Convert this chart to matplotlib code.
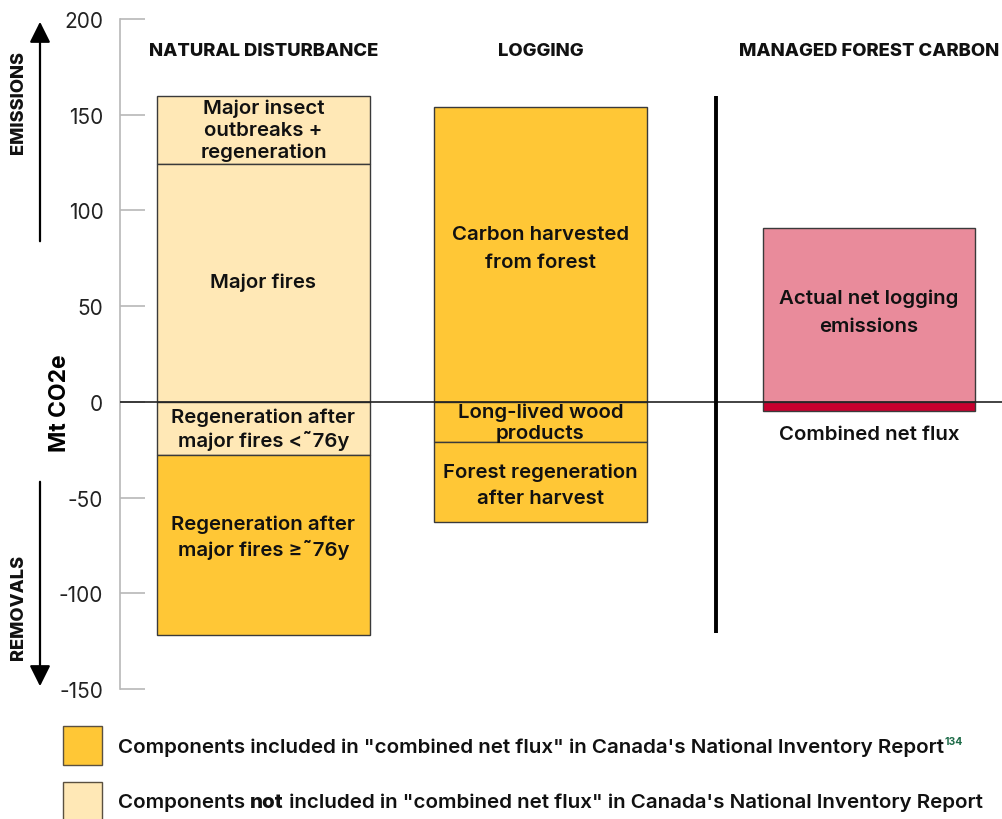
import matplotlib
matplotlib.use("Agg")
import matplotlib.pyplot as plt

# ---- data ----
groups = ["NATURAL DISTURBANCE", "LOGGING", "MANAGED FOREST CARBON"]
# natural disturbance segments (bottom, top)
nd_labels = ["Major insect\noutbreaks +\nregeneration", "Major fires",
             "Regeneration after\nmajor fires <\u02dc76y", "Regeneration after\nmajor fires \u2265\u02dc76y"]
nd_bottoms = [124, 0, -28, -122]
nd_tops = [160, 124, 0, -28]
nd_included = [False, False, False, True]

lg_labels = ["Carbon harvested\nfrom forest", "Long-lived wood\nproducts", "Forest regeneration\nafter harvest"]
lg_bottoms = [0, -21, -63]
lg_tops = [154, 0, -21]
lg_included = [True, True, True]

mfc_net_logging = 91
mfc_combined = -5
mfc_labels = ["Actual net logging\nemissions", "Combined net flux"]

yticks = [-150, -100, -50, 0, 50, 100, 150, 200]
legend_labels = ['Components included in "combined net flux" in Canada\'s National Inventory Report',
                 'Components not included in "combined net flux" in Canada\'s National Inventory Report']
footnote = "134"

# ---- style / layout ----
DARK = "#FFC736"
LIGHT = "#FFE8B6"
PINK = "#E98B9B"
RED = "#C8002E"
EDGE = "#3a3a3a"
FONT = "Inter"
LBL_FS = 14.7
LBL_W = 600

plt.rcParams['font.family'] = [FONT, 'DejaVu Sans']

W, H = 1003, 820
fig = plt.figure(figsize=(W / 100, H / 100), dpi=100)
ax = fig.add_axes([120 / W, (H - 690) / H, 883 / W, 670 / H])
ax.set_xlim(0, 883)
ax.set_ylim(-150, 200)

nd_left, lg_left, mfc_left = 37, 314, 643
bw = 213
sep_x = 596
nd_dy = [0, 1, 0, 4.5]
nd_ls = [1.26, 1.2, 1.22, 1.42]
lg_dy = [3.5, 0, -1.5]
lg_ls = [1.68, 1.24, 1.57]

def draw_stack(left, bottoms, tops, included, labels, dys, lss):
    for b, t, inc, lab, dy, ls in zip(bottoms, tops, included, labels, dys, lss):
        ax.bar(left, t - b, bottom=b, width=bw, align='edge',
               color=DARK if inc else LIGHT, edgecolor=EDGE, linewidth=1.0, zorder=2)
        ax.text(left + bw / 2, (b + t) / 2 + dy, lab, ha='center', va='center',
                fontsize=LBL_FS, fontweight=LBL_W, color='#111111',
                linespacing=ls, zorder=4)

draw_stack(nd_left, nd_bottoms, nd_tops, nd_included, nd_labels, nd_dy, nd_ls)
draw_stack(lg_left, lg_bottoms, lg_tops, lg_included, lg_labels, lg_dy, lg_ls)

ax.bar(mfc_left, mfc_net_logging, width=212, align='edge', color=PINK, edgecolor=EDGE,
       linewidth=1.0, zorder=2)
ax.bar(mfc_left, mfc_combined, width=212, align='edge', color=RED, edgecolor=EDGE,
       linewidth=1.0, zorder=2)
ax.text(mfc_left + 106, mfc_net_logging / 2 + 1.5, mfc_labels[0], ha='center', va='center',
        fontsize=LBL_FS, fontweight=LBL_W, color='#111111', linespacing=1.73, zorder=4)
ax.text(mfc_left + 106, -17, mfc_labels[1], ha='center', va='center',
        fontsize=LBL_FS, fontweight=LBL_W, color='#111111', zorder=4)

ax.axhline(0, color='#222222', lw=1.2, zorder=3)
ax.plot([sep_x, sep_x], [160, -121], color='black', lw=2.8, zorder=3, solid_capstyle='butt')

# group headers
for cx, g in zip([144, 420.5, 749], groups):
    ax.text(cx, 183.5, g, ha='center', va='center', fontsize=13.3, fontweight=800,
            color='#111111', clip_on=False)

# axes styling
for s in ['top', 'right', 'bottom']:
    ax.spines[s].set_visible(False)
ax.spines['left'].set_color('#b8b8b8')
ax.spines['left'].set_linewidth(1.2)
ax.set_xticks([])
ax.set_yticks(yticks)
ax.set_yticklabels([str(v) for v in yticks])
ax.tick_params(axis='y', direction='in', length=18, width=1.2, color='#b8b8b8',
               labelsize=15, labelcolor='#222222', pad=12)
ax.set_ylabel("Mt CO2e", fontsize=16.5, fontweight=700)
ax.yaxis.set_label_coords(-49 / 883, 150 / 350)

# arrows & side labels (figure pixel coords)
def fx(px):
    return px / W
def fy(py):
    return 1 - py / H

fig.add_artist(matplotlib.patches.FancyArrowPatch((fx(40), fy(245)), (fx(40), fy(20)),
               transform=fig.transFigure, arrowstyle='-|>,head_length=0.9,head_width=0.45',
               mutation_scale=14, color='black', lw=1.6))
fig.add_artist(matplotlib.patches.FancyArrowPatch((fx(40), fy(480)), (fx(40), fy(690)),
               transform=fig.transFigure, arrowstyle='-|>,head_length=0.9,head_width=0.45',
               mutation_scale=14, color='black', lw=1.6))
fig.text(fx(19), fy(103), "EMISSIONS", rotation=90, ha='center', va='center',
         fontsize=13.2, fontweight=800, color='#111111')
fig.text(fx(19), fy(607), "REMOVALS", rotation=90, ha='center', va='center',
         fontsize=13.2, fontweight=800, color='#111111')

# legend
for (y0, col) in [(727, DARK), (783, LIGHT)]:
    fig.add_artist(matplotlib.patches.Rectangle((fx(63), fy(y0 + 39)), 39 / W, 39 / H,
                   transform=fig.transFigure, facecolor=col, edgecolor='#5a5040', lw=1.0))
LEG_FS = 14.8
t1 = fig.text(fx(118), fy(748), legend_labels[0], ha='left', va='center', fontsize=LEG_FS,
              fontweight=600, color='#111111')
fig.canvas.draw()
bb = t1.get_window_extent()
fig.text((bb.x1 + 1) / W, fy(742), footnote, ha='left', va='center', fontsize=7.5,
         fontweight=700, color='#1d6b48')

parts = ["Components ", "not", ' included in "combined net flux" in Canada\'s National Inventory Report']
x = fx(118)
weights = [600, 800, 600]
for p, w in zip(parts, weights):
    t = fig.text(x, fy(803), p, ha='left', va='center', fontsize=LEG_FS, fontweight=w, color='#111111')
    fig.canvas.draw()
    x = t.get_window_extent().x1 / W

fig.savefig("out.png", dpi=100)
